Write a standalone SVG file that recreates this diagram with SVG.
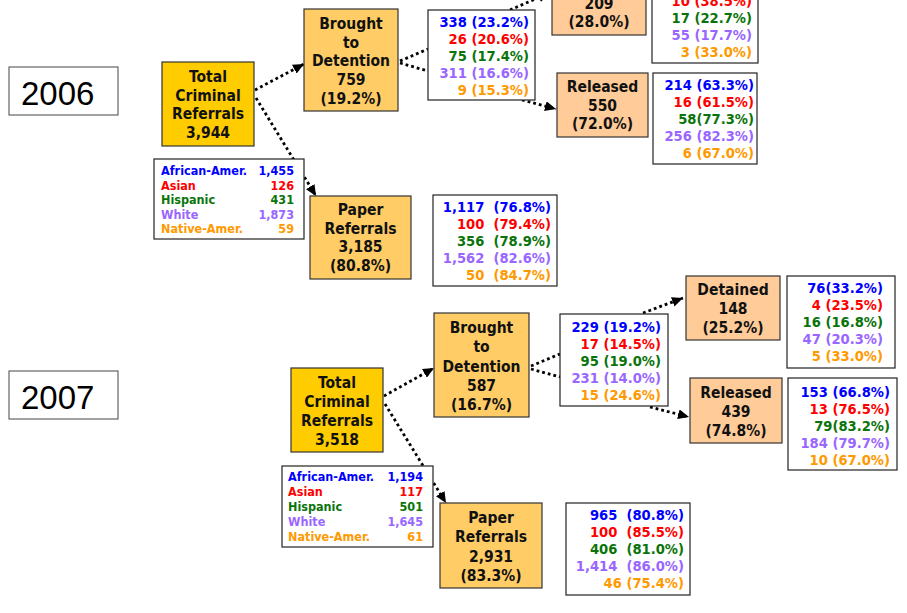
<svg xmlns="http://www.w3.org/2000/svg" width="907" height="613" viewBox="0 0 907 613">
<style>
.bg{fill:#ffffff}
.tot{fill:#ffcc00;stroke:#333;stroke-width:1.2}
.mid{fill:#ffcc66;stroke:#333;stroke-width:1.2}
.out{fill:#ffcc99;stroke:#333;stroke-width:1.2}
.box{fill:#ffffff;stroke:#222;stroke-width:1.2}
.yr{fill:#ffffff;stroke:#444;stroke-width:1}
.yt{font-family:"Liberation Sans",Arial,sans-serif;font-size:33px;fill:#000}
.nt{font-family:"DejaVu Sans Condensed","DejaVu Sans",sans-serif;font-stretch:condensed;font-weight:bold;font-size:15.5px;fill:#111;text-anchor:middle}
.st{font-family:"DejaVu Sans Condensed","DejaVu Sans",sans-serif;font-stretch:condensed;font-weight:bold;font-size:14.6px;text-anchor:end}
.lg{font-family:"DejaVu Sans Condensed","DejaVu Sans",sans-serif;font-stretch:condensed;font-weight:bold;font-size:12.5px}
.r{text-anchor:end}
.b{fill:#0000ff}.rd{fill:#ff0000}.g{fill:#0a740a}.p{fill:#9966ff}.o{fill:#ff9900}
.c{fill:none;stroke:#000;stroke-width:2.8;stroke-dasharray:2.8 3}
</style>
<defs>
<marker id="ah" markerUnits="userSpaceOnUse" markerWidth="12" markerHeight="10" refX="11" refY="5" orient="auto">
<path d="M0,0 L11,5 L0,10 Z" fill="#000"/>
</marker>
</defs>
<rect class="bg" x="0" y="0" width="907" height="613"/>

<g id="connectors">
<line class="c" x1="255" y1="90" x2="304" y2="64" marker-end="url(#ah)"/>
<line class="c" x1="256" y1="98" x2="316" y2="196" marker-end="url(#ah)"/>
<line class="c" x1="400" y1="61" x2="428" y2="49"/>
<line class="c" x1="400" y1="63" x2="428" y2="71"/>
<line class="c" x1="510" y1="10" x2="549" y2="-7" marker-end="url(#ah)"/>
<line class="c" x1="522" y1="100" x2="556" y2="109" marker-end="url(#ah)"/>

<line class="c" x1="384" y1="396" x2="434" y2="368" marker-end="url(#ah)"/>
<line class="c" x1="385" y1="404" x2="446" y2="503" marker-end="url(#ah)"/>
<line class="c" x1="531" y1="366" x2="560" y2="354"/>
<line class="c" x1="531" y1="369" x2="560" y2="377"/>
<line class="c" x1="643" y1="313" x2="683" y2="298" marker-end="url(#ah)"/>
<line class="c" x1="650" y1="407" x2="689" y2="417" marker-end="url(#ah)"/>
</g>

<g id="year2006"><rect class="yr" x="9" y="67" width="109" height="48"/><text class="yt" x="21" y="105">2006</text></g>
<g id="year2007"><rect class="yr" x="9" y="371" width="109" height="48"/><text class="yt" x="21" y="409">2007</text></g>

<g id="total2006"><rect class="tot" x="162" y="62" width="92" height="84"/>
<text class="nt" x="208" y="82">Total</text><text class="nt" x="208" y="100.5">Criminal</text><text class="nt" x="208" y="119">Referrals</text><text class="nt" x="208" y="137.5">3,944</text></g>

<g id="brought2006"><rect class="mid" x="304" y="9" width="94" height="102"/>
<text class="nt" x="351" y="29">Brought</text><text class="nt" x="351" y="47.7">to</text><text class="nt" x="351" y="66.4">Detention</text><text class="nt" x="351" y="85.1">759</text><text class="nt" x="351" y="103.8">(19.2%)</text></g>

<g id="stats2006"><rect class="box" x="428" y="10" width="107" height="90"/>
<text class="st b" x="529" y="27">338 (23.2%)</text><text class="st rd" x="529" y="44">26 (20.6%)</text><text class="st g" x="529" y="61">75 (17.4%)</text><text class="st p" x="529" y="78">311 (16.6%)</text><text class="st o" x="529" y="95">9 (15.3%)</text></g>

<g id="detained2006"><rect class="out" x="552" y="-29" width="94" height="64"/>
<text class="nt" x="599" y="8.5">209</text><text class="nt" x="599" y="27">(28.0%)</text></g>

<g id="detstats2006"><rect class="box" x="652" y="-29" width="106" height="92"/>
<text class="st rd" x="752" y="6">10 (38.5%)</text><text class="st g" x="752" y="23">17 (22.7%)</text><text class="st p" x="752" y="40">55 (17.7%)</text><text class="st o" x="752" y="57">3 (33.0%)</text></g>

<g id="released2006"><rect class="out" x="557" y="73" width="91" height="64"/>
<text class="nt" x="602.5" y="92">Released</text><text class="nt" x="602.5" y="110.7">550</text><text class="nt" x="602.5" y="129.4">(72.0%)</text></g>

<g id="relstats2006"><rect class="box" x="653" y="73" width="104" height="91"/>
<text class="st b" x="754" y="90">214 (63.3%)</text><text class="st rd" x="754" y="107">16 (61.5%)</text><text class="st g" x="754" y="124">58(77.3%)</text><text class="st p" x="754" y="141">256 (82.3%)</text><text class="st o" x="754" y="158">6 (67.0%)</text></g>

<g id="legend2006"><rect class="box" x="154" y="159" width="150" height="80"/>
<text class="lg b" x="161" y="175">African-Amer.</text><text class="lg b r" x="294" y="175">1,455</text>
<text class="lg rd" x="161" y="189.5">Asian</text><text class="lg rd r" x="294" y="189.5">126</text>
<text class="lg g" x="161" y="204">Hispanic</text><text class="lg g r" x="294" y="204">431</text>
<text class="lg p" x="161" y="218.5">White</text><text class="lg p r" x="294" y="218.5">1,873</text>
<text class="lg o" x="161" y="233">Native-Amer.</text><text class="lg o r" x="294" y="233">59</text></g>

<g id="paper2006"><rect class="mid" x="310" y="196" width="101" height="83"/>
<text class="nt" x="360.5" y="215">Paper</text><text class="nt" x="360.5" y="233.7">Referrals</text><text class="nt" x="360.5" y="252.4">3,185</text><text class="nt" x="360.5" y="271.1">(80.8%)</text></g>

<g id="paperstats2006"><rect class="box" x="433" y="195" width="124" height="91"/>
<text class="st b" x="551" y="212" xml:space="preserve">1,117  (76.8%)</text><text class="st rd" x="551" y="229" xml:space="preserve">100  (79.4%)</text><text class="st g" x="551" y="246" xml:space="preserve">356  (78.9%)</text><text class="st p" x="551" y="263" xml:space="preserve">1,562  (82.6%)</text><text class="st o" x="551" y="280" xml:space="preserve">50  (84.7%)</text></g>

<g id="total2007"><rect class="tot" x="291" y="368" width="92" height="84"/>
<text class="nt" x="337" y="387.5">Total</text><text class="nt" x="337" y="406.5">Criminal</text><text class="nt" x="337" y="425.5">Referrals</text><text class="nt" x="337" y="444.5">3,518</text></g>

<g id="brought2007"><rect class="mid" x="434" y="313" width="95" height="104"/>
<text class="nt" x="481.5" y="333">Brought</text><text class="nt" x="481.5" y="352">to</text><text class="nt" x="481.5" y="371.5">Detention</text><text class="nt" x="481.5" y="390.5">587</text><text class="nt" x="481.5" y="409.5">(16.7%)</text></g>

<g id="stats2007"><rect class="box" x="560" y="314" width="108" height="92"/>
<text class="st b" x="661" y="332">229 (19.2%)</text><text class="st rd" x="661" y="349">17 (14.5%)</text><text class="st g" x="661" y="366">95 (19.0%)</text><text class="st p" x="661" y="383">231 (14.0%)</text><text class="st o" x="661" y="400">15 (24.6%)</text></g>

<g id="detained2007"><rect class="out" x="686" y="276" width="94" height="64"/>
<text class="nt" x="733" y="295">Detained</text><text class="nt" x="733" y="314">148</text><text class="nt" x="733" y="333">(25.2%)</text></g>

<g id="detstats2007"><rect class="box" x="787" y="276" width="108" height="92"/>
<text class="st b" x="883" y="293">76(33.2%)</text><text class="st rd" x="883" y="310">4 (23.5%)</text><text class="st g" x="883" y="327">16 (16.8%)</text><text class="st p" x="883" y="344">47 (20.3%)</text><text class="st o" x="883" y="361">5 (33.0%)</text></g>

<g id="released2007"><rect class="out" x="690" y="378" width="92" height="65"/>
<text class="nt" x="736" y="398">Released</text><text class="nt" x="736" y="417">439</text><text class="nt" x="736" y="436">(74.8%)</text></g>

<g id="relstats2007"><rect class="box" x="788" y="378" width="109" height="92"/>
<text class="st b" x="890" y="396.5">153 (66.8%)</text><text class="st rd" x="890" y="413.5">13 (76.5%)</text><text class="st g" x="890" y="430.5">79(83.2%)</text><text class="st p" x="890" y="447.5">184 (79.7%)</text><text class="st o" x="890" y="464.5">10 (67.0%)</text></g>

<g id="legend2007"><rect class="box" x="282" y="466" width="151" height="81"/>
<text class="lg b" x="288" y="481">African-Amer.</text><text class="lg b r" x="423" y="481">1,194</text>
<text class="lg rd" x="288" y="496">Asian</text><text class="lg rd r" x="423" y="496">117</text>
<text class="lg g" x="288" y="511">Hispanic</text><text class="lg g r" x="423" y="511">501</text>
<text class="lg p" x="288" y="526">White</text><text class="lg p r" x="423" y="526">1,645</text>
<text class="lg o" x="288" y="541">Native-Amer.</text><text class="lg o r" x="423" y="541">61</text></g>

<g id="paper2007"><rect class="mid" x="440" y="503" width="102" height="85"/>
<text class="nt" x="491" y="523">Paper</text><text class="nt" x="491" y="542">Referrals</text><text class="nt" x="491" y="561.5">2,931</text><text class="nt" x="491" y="580.5">(83.3%)</text></g>

<g id="paperstats2007"><rect class="box" x="566" y="503" width="124" height="92"/>
<text class="st b" x="684" y="520" xml:space="preserve">965  (80.8%)</text><text class="st rd" x="684" y="537" xml:space="preserve">100  (85.5%)</text><text class="st g" x="684" y="554" xml:space="preserve">406  (81.0%)</text><text class="st p" x="684" y="571" xml:space="preserve">1,414  (86.0%)</text><text class="st o" x="684" y="588" xml:space="preserve">46 (75.4%)</text></g>
</svg>
